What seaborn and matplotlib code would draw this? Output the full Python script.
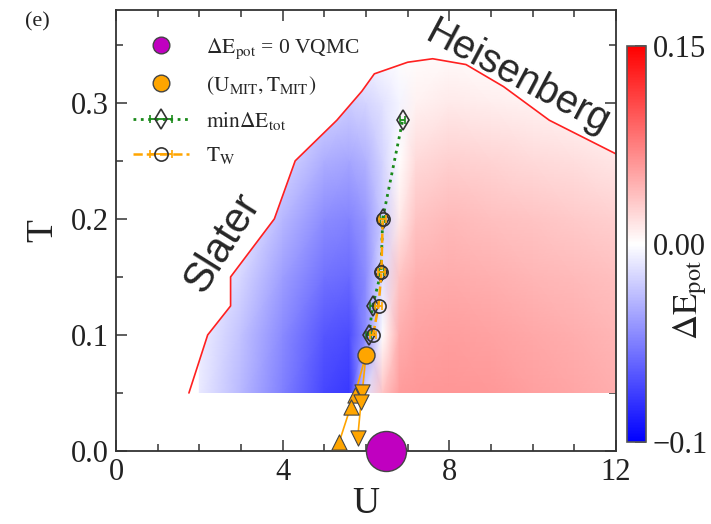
import numpy as np
import matplotlib
matplotlib.use("Agg")
import matplotlib.pyplot as plt
import seaborn as sns
import pandas as pd
from matplotlib.colors import TwoSlopeNorm
from matplotlib.path import Path
from matplotlib.patches import PathPatch
from matplotlib.lines import Line2D
from matplotlib.ticker import MultipleLocator

# ---- phase boundary (red line) ----
bound_U = [1.75, 2.2, 2.75, 2.75, 3.8, 4.3, 5.3, 5.9, 6.2, 7.0, 7.6, 8.4, 9.3, 10.4, 12.0]
bound_T = [0.05, 0.1, 0.125, 0.15, 0.2, 0.25, 0.285, 0.31, 0.325, 0.335, 0.338, 0.333, 0.314, 0.285, 0.256]

# ---- Delta E_pot map on a (T, U) grid ----
grid_U = [2.0, 3.0, 4.0, 5.0, 5.6, 6.0, 6.4, 6.8, 7.2, 8.0, 9.0, 10.0, 11.0, 12.0]
grid_T = [0.05, 0.10, 0.15, 0.20, 0.25, 0.30, 0.34]
dE_row_005 = [-0.008, -0.028, -0.050, -0.072, -0.078, -0.012, 0.035, 0.058, 0.060, 0.062, 0.060, 0.056, 0.052, 0.048]
dE_row_010 = [-0.006, -0.024, -0.046, -0.066, -0.070, -0.045, 0.000, 0.047, 0.054, 0.057, 0.054, 0.051, 0.047, 0.043]
dE_row_015 = [-0.003, -0.016, -0.038, -0.055, -0.058, -0.045, -0.012, 0.034, 0.046, 0.049, 0.046, 0.043, 0.040, 0.037]
dE_row_020 = [-0.001, -0.008, -0.028, -0.045, -0.048, -0.040, -0.020, 0.012, 0.034, 0.040, 0.037, 0.034, 0.031, 0.028]
dE_row_025 = [0.000, -0.003, -0.016, -0.032, -0.035, -0.030, -0.017, 0.000, 0.022, 0.027, 0.025, 0.022, 0.019, 0.015]
dE_row_030 = [0.000, -0.001, -0.006, -0.016, -0.019, -0.017, -0.011, -0.004, 0.008, 0.012, 0.010, 0.008, 0.005, 0.002]
dE_row_034 = [0.000, 0.000, -0.001, -0.004, -0.004, -0.004, -0.002, 0.000, 0.002, 0.003, 0.002, 0.001, 0.000, 0.000]

# ---- markers ----
vqmc_U, vqmc_T = [6.48], [0.0]
mit_U, mit_T = [6.0], [0.083]
up_U = [6.0, 5.73, 5.63, 5.36]
up_T = [0.083, 0.048, 0.038, 0.008]
down_U = [6.0, 5.91, 5.88, 5.80]
down_T = [0.083, 0.051, 0.042, 0.011]
tw_U = [6.17, 6.30, 6.37, 6.40]
tw_T = [0.100, 0.125, 0.154, 0.200]
tw_err = [0.08, 0.08, 0.08, 0.08]
emin_U = [6.07, 6.16, 6.36, 6.40, 6.88]
emin_T = [0.100, 0.125, 0.154, 0.200, 0.285]
emin_err = [0.06, 0.06, 0.06, 0.06, 0.06]

sns.set_theme(style="ticks")
plt.rcParams["font.family"] = ["Liberation Serif", "DejaVu Serif"]
plt.rcParams["mathtext.fontset"] = "stix"
plt.rcParams["axes.edgecolor"] = "#333333"

fig = plt.figure(figsize=(7.11, 5.24), dpi=100)
ax = fig.add_axes([116 / 711, 1 - 451 / 524, 500 / 711, 441 / 524])
cax = fig.add_axes([627 / 711, 1 - 442 / 524, 19 / 711, 396 / 524])

norm = TwoSlopeNorm(vmin=-0.1, vcenter=0.0, vmax=0.15)
Z = np.array([dE_row_005, dE_row_010, dE_row_015, dE_row_020,
              dE_row_025, dE_row_030, dE_row_034])
mesh = ax.pcolormesh(grid_U, grid_T, Z, cmap="bwr", norm=norm,
                     shading="gouraud", zorder=1)
clip_verts = list(zip(bound_U, bound_T)) + [(12.0, 0.05), (1.75, 0.05)]
clip_patch = PathPatch(Path(clip_verts, closed=True), transform=ax.transData,
                       facecolor="none", edgecolor="none")
mesh.set_clip_path(clip_patch)

ax.plot(bound_U, bound_T, color="#ff2020", lw=1.2, zorder=2)

orange = "#ffa500"
# transition lines from the MIT point
ax.plot(up_U, up_T, color=orange, lw=1.2, zorder=3)
ax.plot(down_U, down_T, color=orange, lw=1.2, zorder=3)
sns.scatterplot(x=up_U[1:], y=up_T[1:], marker="^", s=120, color=orange,
                edgecolor="#444444", linewidth=0.8, ax=ax, zorder=4, legend=False)
sns.scatterplot(x=down_U[1:], y=down_T[1:], marker="v", s=120, color=orange,
                edgecolor="#444444", linewidth=0.8, ax=ax, zorder=4, legend=False)

ax.errorbar(emin_U, emin_T, xerr=emin_err, fmt="d", ls=":", lw=2.0,
            color="#1a8a1a", ecolor="#1a8a1a", capsize=3, elinewidth=1.3,
            mfc="none", mec="#333333", ms=10, mew=1.2, zorder=5)
ax.errorbar(tw_U, tw_T, xerr=tw_err, fmt="o", ls="--", lw=1.8,
            color=orange, ecolor=orange, capsize=3, elinewidth=1.3,
            mfc="none", mec="#333333", ms=9.5, mew=1.2, zorder=6)

mit_df = pd.DataFrame({"U": mit_U, "T": mit_T})
sns.scatterplot(data=mit_df, x="U", y="T", s=150, color=orange,
                edgecolor="#444444", linewidth=1.0, ax=ax, zorder=7, legend=False)
vq_df = pd.DataFrame({"U": vqmc_U, "T": vqmc_T})
sns.scatterplot(data=vq_df, x="U", y="T", s=830, color="#c000c0",
                edgecolor="#444444", linewidth=1.0, ax=ax, zorder=8,
                legend=False, clip_on=False)

ax.set_xlim(0, 12)
ax.set_ylim(0, 0.38)
ax.xaxis.set_minor_locator(MultipleLocator(1))
ax.yaxis.set_minor_locator(MultipleLocator(0.05))
ax.set_xticks([0, 4, 8, 12])
ax.set_xticklabels(["0", "4", "8", "12"])
ax.set_yticks([0.0, 0.1, 0.2, 0.3])
ax.set_yticklabels(["0.0", "0.1", "0.2", "0.3"])
ax.tick_params(which="both", direction="in", top=True, right=True,
               colors="#333333", labelcolor="#222222", labelsize=22, pad=5)
ax.tick_params(which="major", length=8, width=1.1)
ax.tick_params(which="minor", length=5, width=1.1)
for sp in ax.spines.values():
    sp.set_linewidth(1.3)
    sp.set_visible(True)
ax.set_xlabel("U", fontsize=27, color="#222222", labelpad=0)
ax.set_ylabel("T", fontsize=27, color="#222222", labelpad=8)

cb = fig.colorbar(mesh, cax=cax)
cb.set_ticks([-0.1, 0.0, 0.15])
cb.set_ticklabels(["\u22120.1", "0.00", "0.15"])
cb.ax.tick_params(direction="in", length=8, width=1.1, labelsize=22,
                  colors="#333333", labelcolor="#222222", pad=5)
cb.outline.set_edgecolor("#555555")
cb.outline.set_linewidth(1.2)
fig.text(690 / 711, 1 - 300 / 524, r"$\Delta\mathrm{E}_{\mathrm{pot}}$",
         fontsize=25, color="#222222", rotation=90, ha="center", va="center")

sans = ["Liberation Sans", "DejaVu Sans"]
ax.text(2.55, 0.179, "Slater", family=sans, fontsize=30, rotation=58,
        rotation_mode="anchor", ha="center", va="center", zorder=10)
ax.text(9.66, 0.322, "Heisenberg", family=sans, fontsize=28.5, rotation=-28,
        rotation_mode="anchor", ha="center", va="center", zorder=10)
fig.text(0.035, 0.958, "(e)", fontsize=16, color="#222222", ha="left", va="center")

handles = [
    Line2D([], [], ls="none", marker="o", ms=12, mfc="#c000c0", mec="#444444"),
    Line2D([], [], ls="none", marker="o", ms=12, mfc=orange, mec="#444444"),
    ax.containers[0],
    ax.containers[1],
]
labels = [
    r"$\Delta\mathrm{E}_{\mathrm{pot}}$ = 0 VQMC",
    r"$(\mathrm{U}_{\mathrm{MIT}},\mathrm{T}_{\mathrm{MIT}})$",
    r"$\mathrm{min}\Delta\mathrm{E}_{\mathrm{tot}}$",
    r"$\mathrm{T}_{\mathrm{W}}$",
]
ax.legend(handles, labels, loc="upper left", bbox_to_anchor=(0.0, 0.98),
          frameon=False, fontsize=15.5, handlelength=2.6, labelspacing=0.62,
          handletextpad=0.8, borderpad=0.3)

fig.savefig("out.png", dpi=100)
